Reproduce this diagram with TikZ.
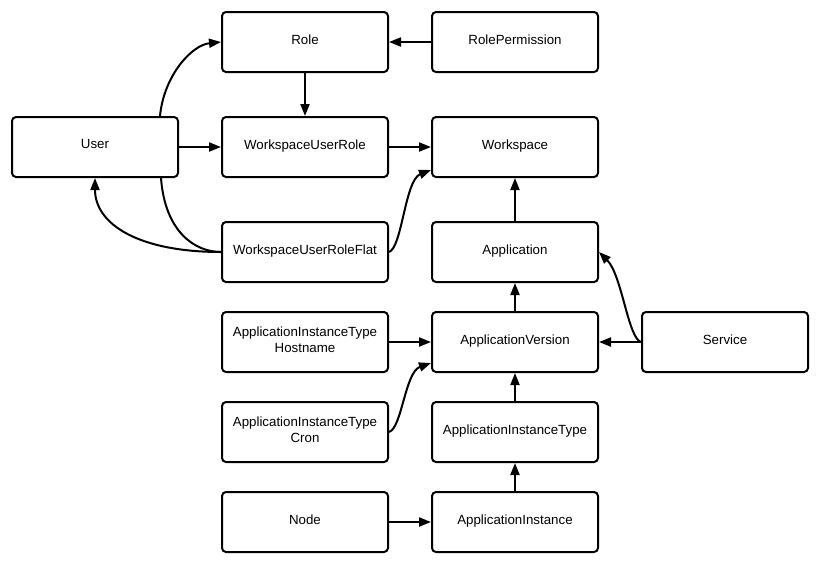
\documentclass[tikz,border=0pt]{standalone}
\usepackage{fontspec}
\setmainfont{Liberation Sans}
\usetikzlibrary{arrows.meta}
\begin{document}
\begin{tikzpicture}[x=1pt,y=-1pt,
  box/.style={draw,line width=2pt,rounded corners=4pt,minimum width=166pt,minimum height=60pt,
    inner sep=0pt,align=center,text depth=5.6pt,font=\fontsize{13.3}{16}\selectfont},
  conn/.style={line width=2pt,-{Triangle[length=12pt,width=9pt]}},
  plain/.style={line width=2pt}]
\useasboundingbox (0,0) rectangle (820,566);
\node[box] (role) at (305,42) {Role};
\node[box] (roleperm) at (515,42) {RolePermission};
\node[box] (user) at (95,147) {User};
\node[box] (wur) at (305,147) {WorkspaceUserRole};
\node[box] (ws) at (515,147) {Workspace};
\node[box] (wurf) at (305,252) {WorkspaceUserRoleFlat};
\node[box] (app) at (515,252) {Application};
\node[box] (aith) at (305,342) {ApplicationInstanceType\\Hostname};
\node[box] (av) at (515,342) {ApplicationVersion};
\node[box] (svc) at (725,342) {Service};
\node[box] (aitc) at (305,432) {ApplicationInstanceType\\Cron};
\node[box] (ait) at (515,432) {ApplicationInstanceType};
\node[box] (nd) at (305,522) {Node};
\node[box] (ai) at (515,522) {ApplicationInstance};
% straight connectors
\draw[conn] (roleperm.west) -- (role.east);
\draw[conn] (role.south) -- (wur.north);
\draw[conn] (user.east) -- (wur.west);
\draw[conn] (wur.east) -- (ws.west);
\draw[conn] (app.north) -- (ws.south);
\draw[conn] (av.north) -- (app.south);
\draw[conn] (svc.west) -- (av.east);
\draw[conn] (aith.east) -- (av.west);
\draw[conn] (ait.north) -- (av.south);
\draw[conn] (ai.north) -- (ait.south);
\draw[conn] (nd.east) -- (ai.west);
% curved connectors
\coordinate (ut) at ([xshift=65pt]user.north);
\coordinate (ub) at ([xshift=66pt]user.south);
\draw[conn] (ut) .. controls (164,75) and (192,45) .. (role.west);
\draw[conn] (wurf.west) .. controls (140,252) and (95,225) .. (user.south);
\draw[plain] (ub) .. controls (165,232) and (195,252) .. (wurf.west);
\coordinate (wsl) at ([yshift=-23pt]ws.west);
\draw[conn] (wurf.east) .. controls (402,248) and (405,180) .. (wsl);
\draw[conn] (svc.west) .. controls (628,338) and (622,275) .. (app.east);
\coordinate (avl) at ([yshift=-21pt]av.west);
\draw[conn] (aitc.east) .. controls (402,428) and (405,372) .. (avl);
\end{tikzpicture}
\end{document}
